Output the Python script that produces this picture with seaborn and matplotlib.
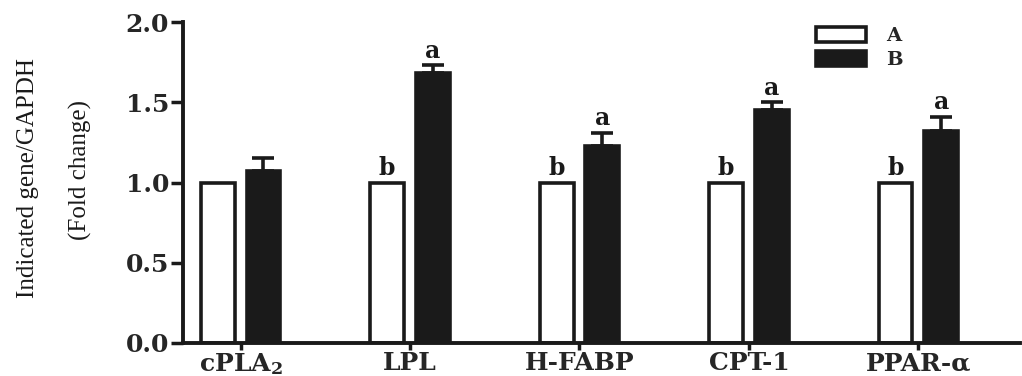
import matplotlib
matplotlib.use("Agg")
import matplotlib.pyplot as plt
from matplotlib.patches import Patch
import seaborn as sns
import pandas as pd
import numpy as np

genes = ["cPLA$_\\mathbf{2}$", "LPL", "H-FABP", "CPT-1", "PPAR-α"]
groups = ["A", "B"]
mean_A = [1.0, 1.0, 1.0, 1.0, 1.0]
mean_B = [1.07, 1.68, 1.23, 1.45, 1.32]
err_A = [0.0, 0.0, 0.0, 0.0, 0.0]
err_B = [0.08, 0.05, 0.08, 0.05, 0.09]
letters_A = ["", "b", "b", "b", "b"]
letters_B = ["", "a", "a", "a", "a"]
ylabel_lines = ["Indicated gene/GAPDH", "(Fold change)"]

df = pd.DataFrame({
    "gene": genes * 2,
    "group": ["A"] * len(genes) + ["B"] * len(genes),
    "value": mean_A + mean_B,
})

sns.set_style("ticks")
plt.rcParams["font.family"] = ["DejaVu Serif"]
plt.rcParams["mathtext.fontset"] = "dejavuserif"

fig = plt.figure(figsize=(10.22, 3.76), dpi=100)
ax = fig.add_axes([183 / 1022, 33 / 376, 1 - 183 / 1022 - 0.002, (343 - 22) / 376])

sns.barplot(data=df, x="gene", y="value", hue="group", hue_order=groups,
            palette={"A": "white", "B": "#1a1a1a"}, edgecolor="#1a1a1a",
            linewidth=2.6, width=0.54, gap=0.26, errorbar=None, legend=False, ax=ax)

bars = [p for p in ax.patches]
n = len(genes)
bars_A = bars[:n]
bars_B = bars[n:2 * n]

for grp, blist, means, err, letters in [("A", bars_A, mean_A, err_A, letters_A),
                                         ("B", bars_B, mean_B, err_B, letters_B)]:
    xs = [b.get_x() + b.get_width() / 2 for b in blist]
    if any(e > 0 for e in err):
        ax.errorbar(xs, means, yerr=[np.zeros(n), err], fmt="none", ecolor="#1a1a1a",
                    elinewidth=2.6, capsize=8, capthick=2.6, zorder=1)
    for x, m, e, t in zip(xs, means, err, letters):
        if t:
            ax.text(x, m + e + 0.015, t, ha="center", va="bottom", fontsize=17,
                    fontweight="bold", color="#1a1a1a")

ax.set_ylim(0, 2.0)
ax.set_xlim(-0.34, 4.6)
ax.set_yticks([0.0, 0.5, 1.0, 1.5, 2.0])
ax.set_yticklabels(["0.0", "0.5", "1.0", "1.5", "2.0"], fontsize=18, fontweight="bold")
ax.set_xticks(range(n))
ax.set_xticklabels(genes, fontsize=18, fontweight="bold")
ax.set_xlabel("")
ax.set_ylabel("")

fig.text(28 / 1022, 1 - 178 / 376, ylabel_lines[0], rotation=90, ha="center", va="center",
         family="Liberation Serif", fontsize=18, color="#1a1a1a")
fig.text(80 / 1022, 1 - 170 / 376, ylabel_lines[1], rotation=90, ha="center", va="center",
         family="Liberation Serif", fontsize=18, color="#1a1a1a")

for s in ["top", "right"]:
    ax.spines[s].set_visible(False)
ax.spines["left"].set_linewidth(2.8)
ax.spines["bottom"].set_linewidth(2.8)
ax.spines["left"].set_color("#1a1a1a")
ax.spines["bottom"].set_color("#1a1a1a")
ax.tick_params(axis="y", length=9, width=2.5, color="#1a1a1a", pad=1)
ax.tick_params(axis="x", length=5, width=2.5, color="#1a1a1a", pad=1)

handles = [Patch(facecolor="white", edgecolor="#1a1a1a", linewidth=2.6, label="A"),
           Patch(facecolor="#1a1a1a", edgecolor="#1a1a1a", linewidth=2.6, label="B")]
leg = ax.legend(handles=handles, loc="upper left", bbox_to_anchor=(0.735, 1.04),
                frameon=False, prop={"weight": "bold", "size": 14},
                handlelength=2.6, handleheight=0.85, handletextpad=1.0, labelspacing=0.3)

fig.savefig("out.png", dpi=100)
